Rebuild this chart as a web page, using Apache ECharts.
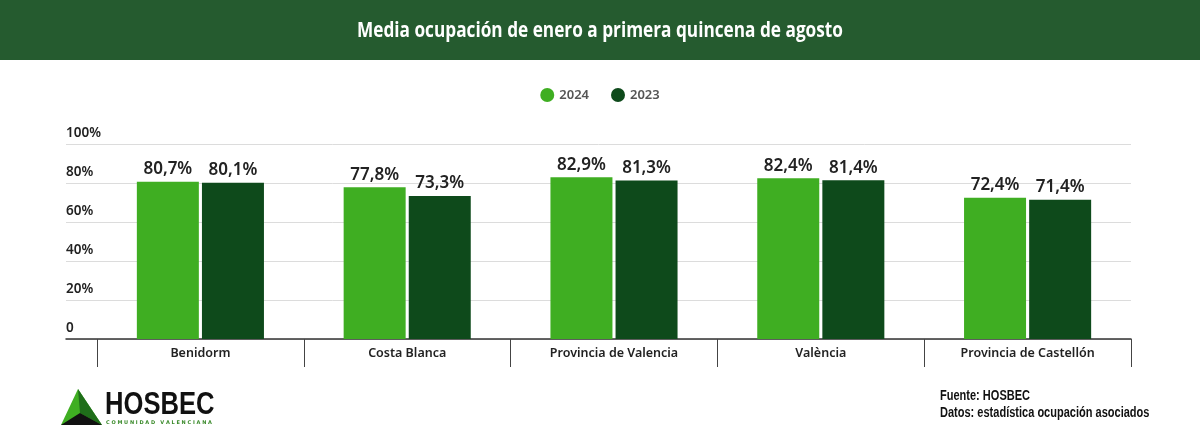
<!DOCTYPE html>
<html><head><meta charset="utf-8">
<script src="https://cdn.jsdelivr.net/npm/echarts@6/dist/echarts.min.js"></script>
<style>html,body{margin:0;padding:0;background:#fff}#c{width:1200px;height:447px}</style>
</head><body><div id="c"></div>
<script>
var categories = ['Benidorm', 'Costa Blanca', 'Provincia de Valencia', 'València', 'Provincia de Castellón'];
var seriesNames = ['2024', '2023'];
var values2024 = [80.7, 77.8, 82.9, 82.4, 72.4];
var values2023 = [80.1, 73.3, 81.3, 81.4, 71.4];
var yTicks = [0, 20, 40, 60, 80, 100];
var colors = ['#3fae22', '#0e4a1b'];

var chart = echarts.init(document.getElementById('c'), null, {renderer: 'canvas'});
var fmt = function (v) { return v.toFixed(1).replace('.', ',') + '%'; };
var labelStyle = {
  show: true, position: 'top', distance: 4,
  fontFamily: 'Noto Sans', fontWeight: 600, fontSize: 17, color: '#222',
  formatter: function (p) { return fmt(p.value); }
};
var grids = {top: 144, bottom: 108, right: 69};
chart.setOption({
  animation: false,
  backgroundColor: '#fff',
  graphic: [
    {type: 'rect', shape: {x: 0, y: 0, width: 1200, height: 60}, style: {fill: '#255b2f'}, z: -1},
    {type: 'text', x: 600, y: 31, scaleX: 0.82, style: {text: 'Media ocupación de enero a primera quincena de agosto', fill: '#fff',
      font: 'bold 21px "Open Sans", sans-serif', align: 'center', verticalAlign: 'middle'}},
    {type: 'polygon', shape: {points: [[78, 389], [61, 425], [102, 425]]}, style: {fill: '#3fae22'}},
    {type: 'polygon', shape: {points: [[78, 389], [80, 413], [102, 425]]}, style: {fill: '#1f6e1a'}},
    {type: 'polygon', shape: {points: [[80, 413], [61, 425], [102, 425]]}, style: {fill: '#111'}},
    {type: 'text', x: 105, y: 405, scaleX: 0.8, style: {text: 'HOSBEC', fill: '#111', font: 'bold 32px "Liberation Sans", sans-serif', verticalAlign: 'middle'}},
    {type: 'text', x: 106, y: 423, style: {text: 'C O M U N I D A D   V A L E N C I A N A', fill: '#3a8a2a', font: 'bold 5px "DejaVu Sans", sans-serif', verticalAlign: 'middle'}},
    {type: 'text', x: 940, y: 396, scaleX: 0.76, style: {text: 'Fuente: HOSBEC', fill: '#111', font: 'bold 14.5px "Liberation Sans", sans-serif', verticalAlign: 'middle'}},
    {type: 'text', x: 940, y: 413, scaleX: 0.76, style: {text: 'Datos: estadística ocupación asociados', fill: '#111', font: 'bold 14.5px "Liberation Sans", sans-serif', verticalAlign: 'middle'}}
  ],
  legend: {
    top: 83, left: 'center', icon: 'circle', itemWidth: 14, itemHeight: 14, itemGap: 22,
    textStyle: {fontFamily: 'Noto Sans', fontWeight: 600, fontSize: 13, color: '#555'},
    data: seriesNames
  },
  grid: [
    {left: 66, top: grids.top, bottom: grids.bottom, right: grids.right},
    {left: 97, top: grids.top, bottom: grids.bottom, right: grids.right}
  ],
  xAxis: [
    {type: 'value', gridIndex: 0, min: 0, max: 1, show: true,
      axisLine: {show: true, onZero: false, lineStyle: {color: '#333', width: 1.5}},
      axisTick: {show: false}, axisLabel: {show: false}, splitLine: {show: false}},
    {type: 'category', gridIndex: 1, data: categories, boundaryGap: true,
      axisLine: {show: false},
      axisTick: {show: true, length: 28, lineStyle: {color: '#444', width: 1}},
      axisLabel: {margin: 8, fontFamily: 'Noto Sans', fontWeight: 600, fontSize: 12.5, color: '#222'}}
  ],
  yAxis: [
    {type: 'value', gridIndex: 0, min: 0, max: 100, interval: 20,
      axisLine: {show: false}, axisTick: {show: false},
      splitLine: {show: true, lineStyle: {color: '#dcdcdc', width: 1}},
      axisLabel: {inside: true, margin: 0, align: 'left', verticalAlign: 'bottom', padding: [0, 0, 4, 0],
        fontFamily: 'Noto Sans', fontWeight: 600, fontSize: 13.5, color: '#222',
        formatter: function (v) { return yTicks.indexOf(v) >= 0 ? (v === 0 ? '0' : v + '%') : ''; }}},
    {type: 'value', gridIndex: 1, min: 0, max: 100, interval: 20, show: false}
  ],
  series: [
    {name: seriesNames[0], type: 'bar', xAxisIndex: 1, yAxisIndex: 1, data: values2024,
      barWidth: 62, barGap: '5%', itemStyle: {color: colors[0]}, label: labelStyle},
    {name: seriesNames[1], type: 'bar', xAxisIndex: 1, yAxisIndex: 1, data: values2023,
      barWidth: 62, barGap: '5%', itemStyle: {color: colors[1]}, label: labelStyle}
  ]
});
</script></body></html>
